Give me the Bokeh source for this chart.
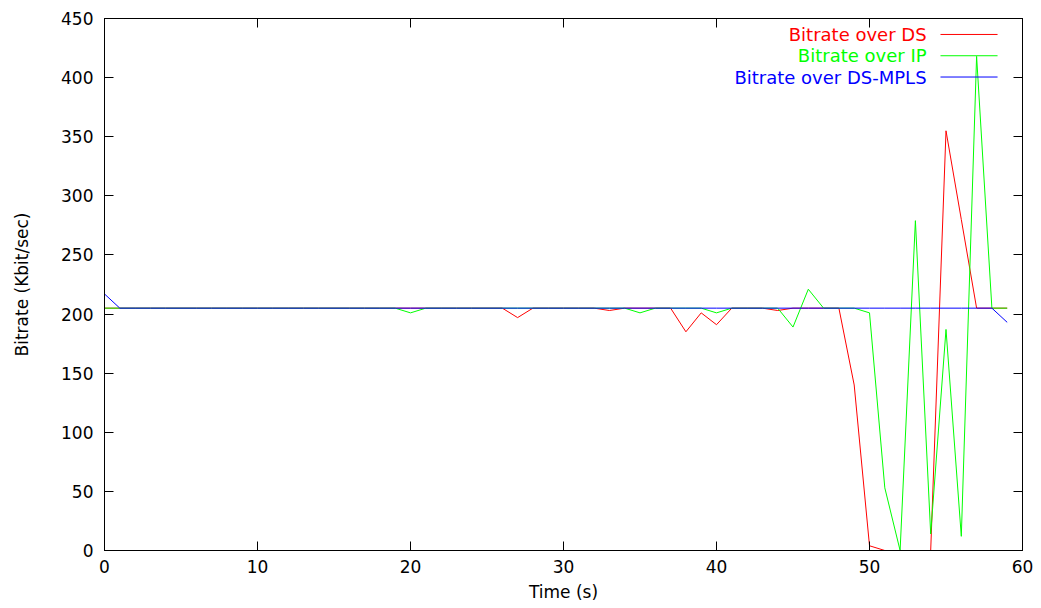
from bokeh.plotting import figure
from bokeh.models import Range1d, LinearAxis, FixedTicker, Label, Arrow, CustomJSTickFormatter
from bokeh.embed import file_html
from bokeh.resources import INLINE

# ---- data ----
time_s = list(range(60))

bitrate_ds = [205] * 27 + [197] + [205] * 5 + [203] + [205] * 4 + [185, 201, 191] \
    + [205] * 3 + [203] + [205] * 4 + [140, 4, 0, 0, 0, 0, 355, 280, 205, 205, 205]

bitrate_ip = [205] * 20 + [201] + [205] * 14 + [201] + [205] * 4 + [201] + [205] * 4 \
    + [189, 221, 205, 205, 205, 201, 53, 0, 279, 14, 187, 12, 418, 205, 205]

bitrate_mpls = [217] + [205] * 58 + [193]

series_names = ["Bitrate over DS", "Bitrate over IP", "Bitrate over DS-MPLS"]
series_colors = ["#ff0000", "#00ff00", "#0000ff"]

x_ticks = [0, 10, 20, 30, 40, 50, 60]
y_ticks = [0, 50, 100, 150, 200, 250, 300, 350, 400, 450]

FONT = "DejaVu Sans"

p = figure(width=1033, height=606,
           x_range=Range1d(0, 60), y_range=Range1d(0, 450),
           output_backend="svg", toolbar_location=None,
           min_border_left=104, min_border_right=11,
           min_border_top=18, min_border_bottom=56,
           background_fill_color="white", border_fill_color="white")

p.xgrid.visible = False
p.ygrid.visible = False
p.outline_line_color = "black"
p.outline_line_width = 1
p.outline_line_alpha = 1.0

for ax in (p.xaxis[0], p.yaxis[0]):
    ax.axis_line_color = "black"
    ax.major_tick_line_color = "black"
    ax.major_tick_in = 9
    ax.major_tick_out = 0
    ax.minor_tick_line_color = None
    ax.major_label_text_font = FONT
    ax.major_label_text_font_size = "17px"
    ax.major_label_text_color = "black"
    ax.axis_label_text_font = FONT
    ax.axis_label_text_font_size = "17px"
    ax.axis_label_text_font_style = "normal"
    ax.axis_label_text_color = "black"

p.xaxis.ticker = FixedTicker(ticks=x_ticks)
p.yaxis.ticker = FixedTicker(ticks=y_ticks)
p.xaxis.axis_label = "Time (s)"
p.yaxis.axis_label = "Bitrate (Kbit/sec)"
p.xaxis.major_label_standoff = 9
p.xaxis.axis_label_standoff = 6
p.yaxis.major_label_standoff = 11
p.yaxis.axis_label_standoff = 26

# mirrored ticks on top and right (no labels)
blank = CustomJSTickFormatter(code="return '';")
top_ax = LinearAxis(ticker=FixedTicker(ticks=x_ticks), major_tick_in=9, major_tick_out=0,
                    minor_tick_line_color=None, formatter=blank,
                    major_label_standoff=0, axis_line_color="black")
right_ax = LinearAxis(ticker=FixedTicker(ticks=y_ticks), major_tick_in=9, major_tick_out=0,
                      minor_tick_line_color=None, formatter=blank,
                      major_label_standoff=0, axis_line_color="black")
p.add_layout(top_ax, "above")
p.add_layout(right_ax, "right")

for ys, col in zip([bitrate_ds, bitrate_ip, bitrate_mpls], series_colors):
    p.line(time_s, ys, line_color=col, line_width=1)

# legend (gnuplot style: right-aligned text, sample line on the right)
leg_text_x = 53.73
leg_line_x0 = 54.64
leg_line_x1 = 58.37
leg_y0 = 436.5
leg_dy = 18.0
for i, (name, col) in enumerate(zip(series_names, series_colors)):
    yy = leg_y0 - i * leg_dy
    p.add_layout(Label(x=leg_text_x, y=yy, text=name, text_align="right",
                       text_baseline="middle", text_color=col,
                       text_font=FONT, text_font_size="18px"))
    p.add_layout(Arrow(end=None, x_start=leg_line_x0, y_start=yy,
                       x_end=leg_line_x1, y_end=yy, line_color=col, line_width=1))

open("out.html", "w").write(file_html(p, INLINE))
